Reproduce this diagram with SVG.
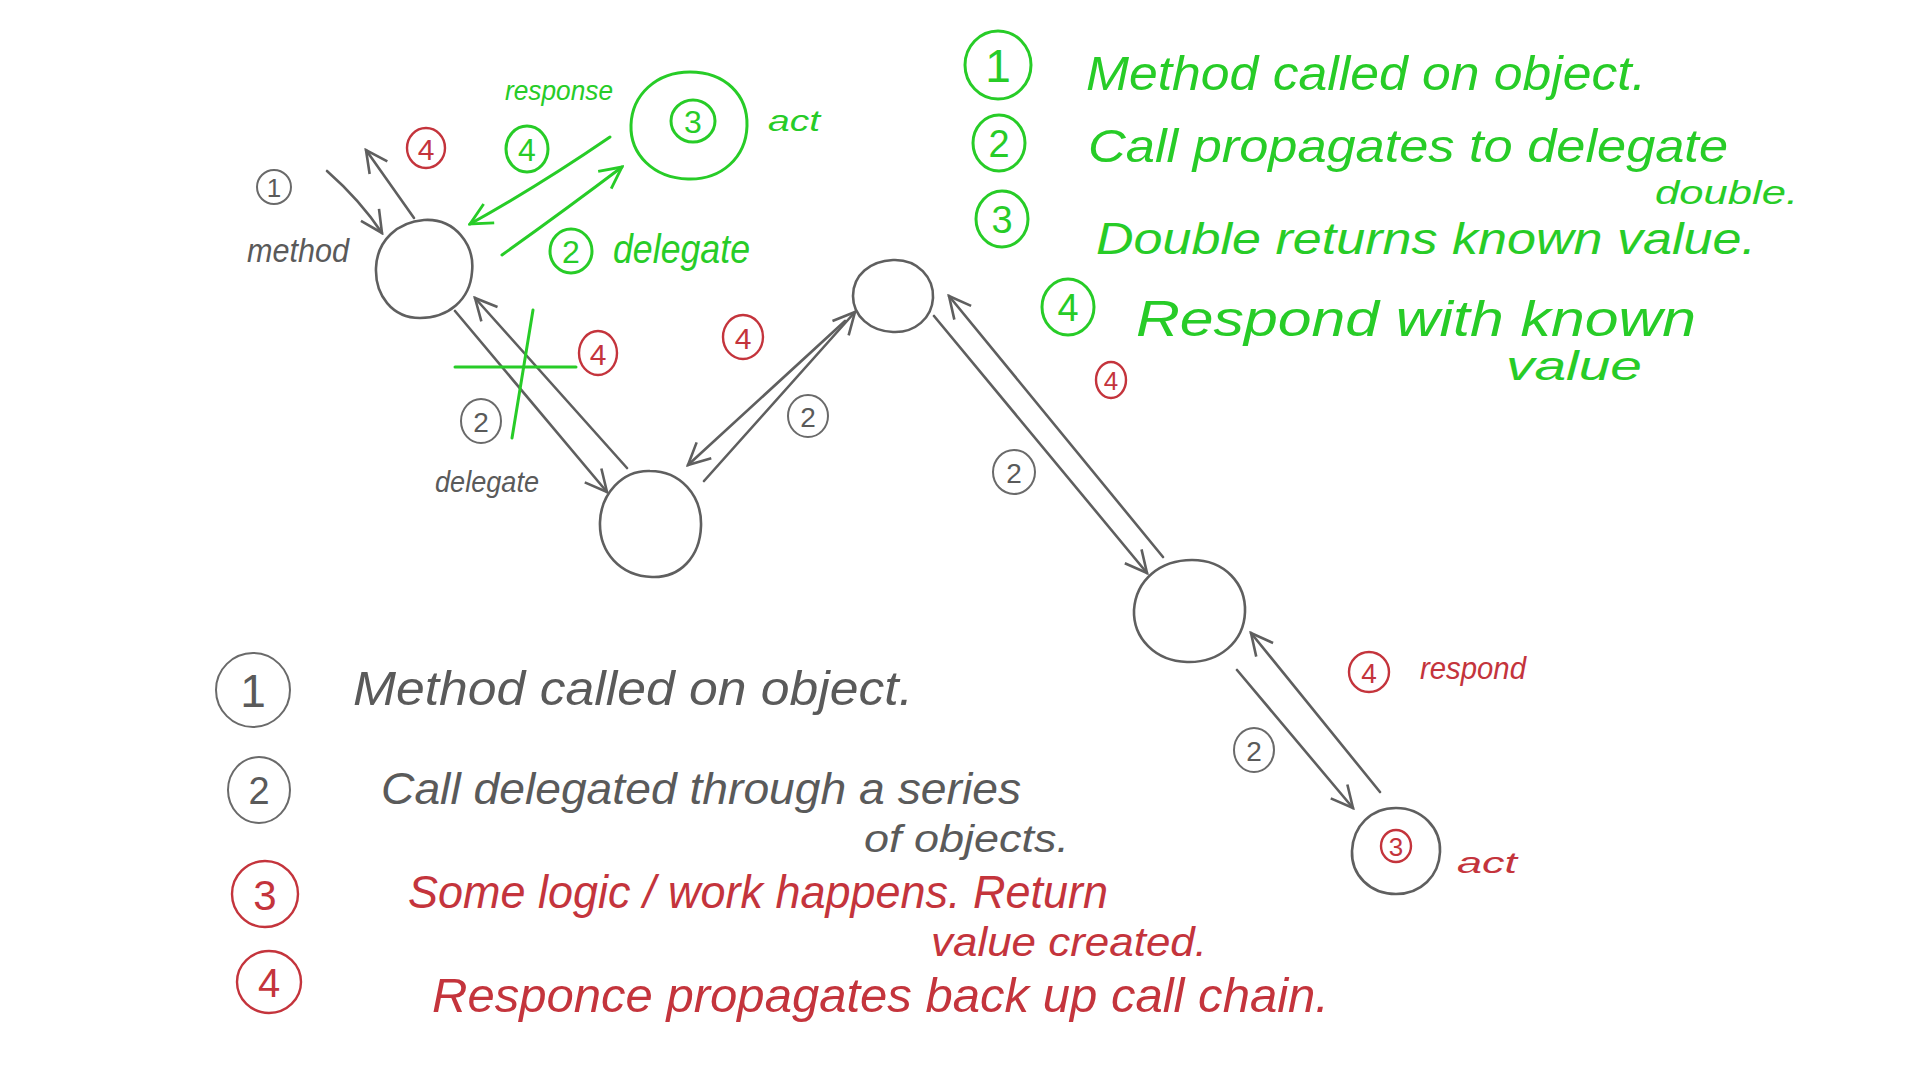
<svg xmlns="http://www.w3.org/2000/svg" width="1920" height="1080" viewBox="0 0 1920 1080">
<defs>
<style>
.bg{fill:#ffffff}
.gray{stroke:#5f5f5f;fill:none;stroke-width:2.6;stroke-linecap:round;stroke-linejoin:round}
.grayT{stroke:#6a6a6a;fill:none;stroke-width:2;stroke-linecap:round}
.green{stroke:#27cc27;fill:none;stroke-width:3;stroke-linecap:round;stroke-linejoin:round}
.red{stroke:#c4343c;fill:none;stroke-width:2.4;stroke-linecap:round}
text{font-family:"Liberation Sans","DejaVu Sans",sans-serif;font-style:italic}
.tg{fill:#27cc27}
.tr{fill:#c4343c}
.tk{fill:#5a5a5a}
.num{text-anchor:middle;font-style:normal}
</style>
<marker id="ahL" viewBox="0 0 12 12" refX="11" refY="6" markerWidth="26" markerHeight="26" markerUnits="userSpaceOnUse" orient="auto">
<path d="M1,1 L11,6 L1,11" fill="none" stroke="#5f5f5f" stroke-width="1.2"/>
</marker>
<marker id="ahGr" viewBox="0 0 12 12" refX="11" refY="6" markerWidth="26" markerHeight="26" markerUnits="userSpaceOnUse" orient="auto">
<path d="M1,1 L11,6 L1,11" fill="none" stroke="#27cc27" stroke-width="1.3"/>
</marker>
</defs>
<rect class="bg" x="0" y="0" width="1920" height="1080"/>

<g id="connectors">
<path class="gray" d="M327,171 Q360,200 382,233" marker-end="url(#ahL)"/>
<path class="gray" d="M414,218 L366,150" marker-end="url(#ahL)"/>
<path class="green" d="M610,137 Q540,185 470,224" marker-end="url(#ahGr)"/>
<path class="green" d="M502,255 Q565,210 622,167" marker-end="url(#ahGr)"/>
<path class="gray" d="M455,311 L607,492" marker-end="url(#ahL)"/>
<path class="gray" d="M627,468 L475,298" marker-end="url(#ahL)"/>
<path class="gray" d="M845,321 L688,465" marker-end="url(#ahL)"/>
<path class="gray" d="M704,481 L855,312" marker-end="url(#ahL)"/>
<path class="gray" d="M934,316 L1147,573" marker-end="url(#ahL)"/>
<path class="gray" d="M1163,557 L949,296" marker-end="url(#ahL)"/>
<path class="gray" d="M1237,670 L1353,808" marker-end="url(#ahL)"/>
<path class="gray" d="M1380,792 L1251,633" marker-end="url(#ahL)"/>
<path class="green" d="M455,367 L576,367"/>
<path class="green" d="M533,310 L512,438"/>
</g>

<g id="node-a">
<path class="gray" d="M424,220 C455,218 475,245 472,272 C470,300 448,318 420,318 C392,318 375,295 376,268 C377,240 398,222 424,220 Z"/>
</g>
<g id="node-b">
<path class="gray" d="M650,471 C680,471 702,495 701,526 C700,557 680,578 652,577 C620,576 599,552 600,522 C601,494 622,470 650,471 Z"/>
</g>
<g id="node-c">
<path class="gray" d="M893,260 C918,259 934,278 933,298 C932,318 915,333 893,332 C870,331 853,316 853,296 C853,275 870,261 893,260 Z"/>
</g>
<g id="node-d">
<path class="gray" d="M1192,560 C1225,560 1246,584 1245,612 C1244,642 1219,663 1187,662 C1155,661 1133,638 1134,610 C1136,580 1160,560 1192,560 Z"/>
</g>
<g id="node-e">
<path class="gray" d="M1396,808 C1422,808 1441,828 1440,852 C1439,876 1421,894 1396,894 C1370,894 1351,875 1352,851 C1353,826 1371,808 1396,808 Z"/>
<ellipse class="red" cx="1396" cy="846" rx="15" ry="16"/>
<text class="tr num" x="1396" y="856" font-size="26">3</text>
<text class="tr" x="1457" y="873" font-size="30" textLength="60" lengthAdjust="spacingAndGlyphs">act</text>
</g>
<g id="node-act-green">
<path class="green" d="M690,72 C725,72 748,95 747,126 C746,157 722,180 688,179 C653,178 630,154 631,125 C632,95 656,72 690,72 Z"/>
<ellipse class="green" cx="693" cy="121" rx="22" ry="21"/>
<text class="tg num" x="693" y="133" font-size="32">3</text>
<text class="tg" x="768" y="131" font-size="30" textLength="52" lengthAdjust="spacingAndGlyphs">act</text>
</g>

<g id="labels">
<ellipse class="grayT" cx="274" cy="187" rx="17" ry="17"/>
<text class="tk num" x="274" y="197" font-size="26">1</text>
<text class="tk" x="247" y="262" font-size="34" textLength="102" lengthAdjust="spacingAndGlyphs">method</text>
<ellipse class="red" cx="426" cy="148" rx="19" ry="20"/>
<text class="tr num" x="426" y="160" font-size="30">4</text>
<text class="tg" x="505" y="100" font-size="28" textLength="108" lengthAdjust="spacingAndGlyphs">response</text>
<ellipse class="green" cx="527" cy="149" rx="21" ry="23"/>
<text class="tg num" x="527" y="161" font-size="32">4</text>
<ellipse class="green" cx="571" cy="251" rx="21" ry="22"/>
<text class="tg num" x="571" y="263" font-size="32">2</text>
<text class="tg" x="613" y="263" font-size="40" textLength="137" lengthAdjust="spacingAndGlyphs">delegate</text>
<ellipse class="red" cx="598" cy="353" rx="19" ry="22"/>
<text class="tr num" x="598" y="365" font-size="30">4</text>
<ellipse class="grayT" cx="481" cy="421" rx="20" ry="22"/>
<text class="tk num" x="481" y="432" font-size="28">2</text>
<text class="tk" x="435" y="492" font-size="30" textLength="104" lengthAdjust="spacingAndGlyphs">delegate</text>
<ellipse class="red" cx="743" cy="337" rx="20" ry="22"/>
<text class="tr num" x="743" y="349" font-size="30">4</text>
<ellipse class="grayT" cx="808" cy="416" rx="20" ry="21"/>
<text class="tk num" x="808" y="427" font-size="28">2</text>
<ellipse class="grayT" cx="1014" cy="472" rx="21" ry="22"/>
<text class="tk num" x="1014" y="483" font-size="28">2</text>
<ellipse class="red" cx="1111" cy="380" rx="15" ry="18"/>
<text class="tr num" x="1111" y="390" font-size="26">4</text>
<ellipse class="grayT" cx="1254" cy="750" rx="20" ry="22"/>
<text class="tk num" x="1254" y="761" font-size="28">2</text>
<ellipse class="red" cx="1369" cy="672" rx="20" ry="20"/>
<text class="tr num" x="1369" y="683" font-size="28">4</text>
<text class="tr" x="1420" y="679" font-size="32" textLength="106" lengthAdjust="spacingAndGlyphs">respond</text>
</g>

<g id="legend-top">
<ellipse class="green" cx="998" cy="65" rx="33" ry="34"/>
<text class="tg num" x="998" y="82" font-size="46">1</text>
<text class="tg" x="1086" y="90" font-size="48" textLength="560" lengthAdjust="spacingAndGlyphs">Method called on object.</text>
<ellipse class="green" cx="999" cy="143" rx="26" ry="28"/>
<text class="tg num" x="999" y="157" font-size="38">2</text>
<text class="tg" x="1088" y="162" font-size="46" textLength="640" lengthAdjust="spacingAndGlyphs">Call propagates to delegate</text>
<text class="tg" x="1655" y="204" font-size="34" textLength="143" lengthAdjust="spacingAndGlyphs">double.</text>
<ellipse class="green" cx="1002" cy="219" rx="26" ry="28"/>
<text class="tg num" x="1002" y="233" font-size="38">3</text>
<text class="tg" x="1096" y="254" font-size="44" textLength="660" lengthAdjust="spacingAndGlyphs">Double returns known value.</text>
<ellipse class="green" cx="1068" cy="307" rx="26" ry="28"/>
<text class="tg num" x="1068" y="321" font-size="38">4</text>
<text class="tg" x="1136" y="336" font-size="50" textLength="560" lengthAdjust="spacingAndGlyphs">Respond with known</text>
<text class="tg" x="1506" y="380" font-size="40" textLength="136" lengthAdjust="spacingAndGlyphs">value</text>
</g>

<g id="legend-bottom">
<ellipse class="grayT" cx="253" cy="690" rx="37" ry="37"/>
<text class="tk num" x="253" y="707" font-size="46">1</text>
<text class="tk" x="353" y="705" font-size="48" textLength="560" lengthAdjust="spacingAndGlyphs">Method called on object.</text>
<ellipse class="grayT" cx="259" cy="790" rx="31" ry="33"/>
<text class="tk num" x="259" y="804" font-size="38">2</text>
<text class="tk" x="381" y="804" font-size="44" textLength="640" lengthAdjust="spacingAndGlyphs">Call delegated through a series</text>
<text class="tk" x="864" y="852" font-size="38" textLength="205" lengthAdjust="spacingAndGlyphs">of objects.</text>
<ellipse class="red" cx="265" cy="894" rx="33" ry="33"/>
<text class="tr num" x="265" y="910" font-size="42">3</text>
<text class="tr" x="408" y="908" font-size="46" textLength="700" lengthAdjust="spacingAndGlyphs">Some logic / work happens. Return</text>
<text class="tr" x="931" y="956" font-size="40" textLength="276" lengthAdjust="spacingAndGlyphs">value created.</text>
<ellipse class="red" cx="269" cy="982" rx="32" ry="31"/>
<text class="tr num" x="269" y="997" font-size="40">4</text>
<text class="tr" x="432" y="1012" font-size="48" textLength="897" lengthAdjust="spacingAndGlyphs">Responce propagates back up call chain.</text>
</g>
</svg>
